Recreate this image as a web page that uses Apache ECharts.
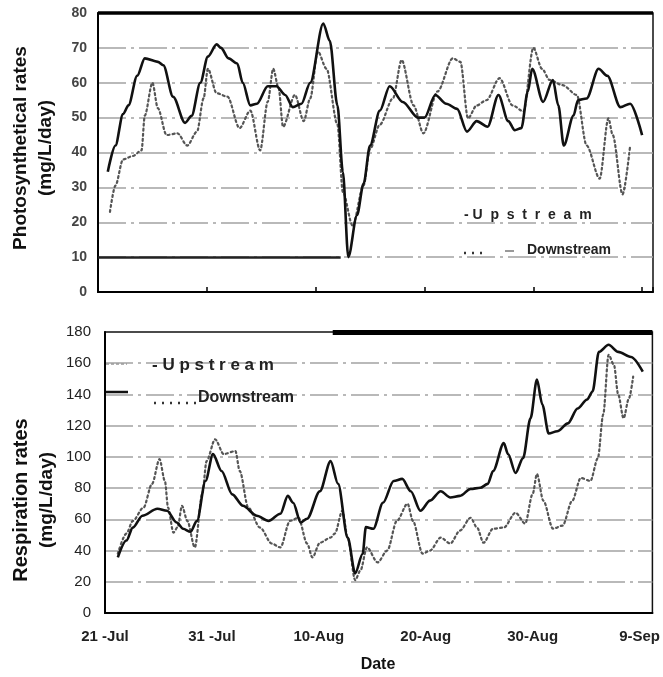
<!DOCTYPE html>
<html>
<head>
<meta charset="utf-8">
<script src="https://cdn.jsdelivr.net/npm/echarts@6/dist/echarts.min.js"></script>
<style>
html,body{margin:0;padding:0;background:#fff;}
#chart{width:663px;height:677px;}
</style>
</head>
<body>
<div id="chart"></div>
<script>
// Day offsets from 21-Jul (x positions of the points)
var xTickLabels = ['21 -Jul', '31 -Jul', '10-Aug', '20-Aug', '30-Aug', '9-Sep'];
var photoTicks = [0, 10, 20, 30, 40, 50, 60, 70, 80];
var respTicks = [0, 20, 40, 60, 80, 100, 120, 140, 160, 180];

// Photosynthetical rates - Upstream
var photoUpDays = [0.9,1.6,2.3,2.8,3.6,4.3,5.5,6,6.9,8,8.6,9.4,10.1,10.9,11.3,12,12.8,13.3,14,14.6,15.6,16.4,17.2,17.9,18.7,19.5,20.7,21.3,22,22.5,23,23.8,24.4,25,25.9,26.8,28,29.4,30,31,32,33,33.9,34.8,35.8,36.8,37.7,38.3,38.9,39.5,39.9,40.9,41.8,42.3,42.8,43.7,44.1,44.9,46,46.8,48,48.9,50];
var photoUpVals = [34.5,42,51,53.5,62,67,66,65,56,48.5,50.5,60,67.5,71,70,67,65.5,60,53.5,54,59,59,56.5,53,54,60,77,72,53.5,34.5,10,22,31,42,52,59,54.5,50,50,56.5,54,52.5,46,49,47.4,56.5,49,46.4,47,57.5,64,54.5,60.8,53.5,42,50.6,55,55.5,64,62,53,54,45];

// Photosynthetical rates - Downstream
var photoDownDays = [1.1,1.6,2.3,3.2,4,4.3,5,5.5,6.3,7.3,8.2,9.1,9.7,10.1,10.9,11.9,13,14,14.9,15.6,16.1,16.6,17,18.1,18.9,19.5,20.2,21,22,22.5,23.4,24.4,25,25.9,27.1,27.9,29,29.9,31.2,32.6,33.3,34,34.8,35.7,36.9,38.1,39.1,40,40.8,41.5,42.7,44,44.9,46.1,46.9,47.3,48.2,48.9];
var photoDownVals = [23,30.5,38,39,40.6,50.6,60,52.7,45,45.5,42,46,55.5,64,57,56,47,52,40.6,54.6,64,58.4,47.4,56.5,49,55.5,69,64,48,28.7,19,30.5,41,48,55.5,66.5,53.5,45.5,57.5,67,66,49.8,53.5,55,61.3,53.5,51.8,70,64,60.8,59.3,56.5,42,32.5,49.8,45,28,42];

// Respiration rates - Upstream
var respUpDays = [1.2,2,2.6,3.5,4.9,5.8,6.7,7.3,8,8.6,9.4,10.1,10.9,11.9,12.9,14.2,15.3,16.4,17.1,17.6,18.3,18.9,20.1,21.1,21.8,22.7,23.4,24.1,24.4,25.1,26,27,27.8,28.6,29.5,30.4,31.4,32.3,33.2,34.2,35.1,35.8,36.3,37.3,37.7,38.4,39.1,39.8,40.4,40.9,41.5,42.3,43.3,44.2,45.1,45.6,46.2,47.1,48,49.2,50.3];
var respUpVals = [35.6,46.4,54.7,62.3,66.8,65.5,58,54,52,59,84.6,101.8,91,76,68.7,62.3,59,63.6,75,70.6,58,60.4,78,97.3,82.7,48.3,25.4,38,55,54,70.6,84.6,85.9,78,65.5,72,78,74,75,79.5,80.2,82.7,91,108.8,101.8,89.7,99.2,124.7,149.5,133.6,115,116.4,121.5,131,136.8,141.9,167.3,171.8,167.3,164,154.6];

// Respiration rates - Downstream
var respDownDays = [1.2,2,2.6,3.6,4.4,5.1,5.6,5.9,6.4,6.8,7.2,7.7,8.4,9.1,9.5,10.3,11.1,12.2,12.6,13.4,14.5,15.6,16.4,17.3,18.1,18.9,19.4,20.1,21.1,21.5,22.2,22.7,23.4,23.9,24.5,25.5,26.4,27.3,28.3,28.8,29.7,30.4,31.4,32.3,33.2,34.2,34.8,35.4,36.3,37.3,38.4,39.3,40,40.4,41,41.9,42.8,43.7,44.5,45.4,46.1,46.6,47.1,47.6,48,48.5,49,49.4];
var respDownVals = [38,50.9,59,67.5,82.7,98.6,84.6,67.5,51.5,55,68.7,59,42,76.3,97.3,111.3,101.8,103.7,91,67.5,54.7,44.5,42,59,61,44.5,35.6,45,48.3,50.9,65.5,48.3,21,27.4,42,32.4,40,59,70,59,38,40,48.3,44.5,52.8,61,54.7,45,54,54.7,64.2,57.3,76.3,89,71.9,54,56,71.9,86.5,84.6,99.2,127.2,165.4,159,140,124.7,137.4,151.4];

function zip(a, b) { return a.map(function (v, i) { return [v, b[i]]; }); }

var FONT = '"Liberation Sans", Arial, sans-serif';
var gridLine = { color: '#a3a3a3', width: 1.5, type: [28, 5, 3, 5] };

var chart = echarts.init(document.getElementById('chart'), null, { renderer: 'canvas' });

var option = {
  backgroundColor: '#ffffff',
  animation: false,
  textStyle: { fontFamily: FONT },
  grid: [
    { left: 98, right: 10, top: 13, bottom: 385, show: true, borderColor: '#111', borderWidth: 1.5 },
    { left: 105, right: 10, top: 332, bottom: 64, show: true, borderColor: '#111', borderWidth: 1.5 }
  ],
  xAxis: [
    {
      gridIndex: 0, type: 'value', min: 0, max: 51, interval: 10,
      axisLine: { show: true, lineStyle: { color: '#000', width: 2 } },
      axisTick: { show: true, inside: true, length: 5, lineStyle: { color: '#000', width: 1.5 } },
      axisLabel: { show: false },
      splitLine: { show: false }
    },
    {
      gridIndex: 1, type: 'value', min: 0, max: 51.2, interval: 10,
      axisLine: { show: true, lineStyle: { color: '#000', width: 2 } },
      axisTick: { show: false },
      axisLabel: {
        show: true, margin: 16, fontSize: 15, fontWeight: 'bold', color: '#222', fontFamily: FONT,
        showMaxLabel: false,
        formatter: function (v) { return (Math.abs(v % 10) < 1e-6) ? xTickLabels[Math.round(v / 10)] : ''; }
      },
      splitLine: { show: false }
    }
  ],
  yAxis: [
    {
      gridIndex: 0, type: 'value', min: photoTicks[0], max: photoTicks[photoTicks.length - 1], interval: 10,
      axisLine: { show: true, lineStyle: { color: '#000', width: 2 } },
      axisTick: { show: false },
      axisLabel: { margin: 11, fontSize: 14, fontWeight: 'bold', color: '#444', fontFamily: FONT },
      splitLine: { show: true, showMinLine: false, showMaxLine: false, lineStyle: gridLine }
    },
    {
      gridIndex: 1, type: 'value', min: respTicks[0], max: respTicks[respTicks.length - 1], interval: 20,
      axisLine: { show: true, lineStyle: { color: '#000', width: 2 } },
      axisTick: { show: false },
      axisLabel: { margin: 14, fontSize: 15, color: '#222', fontFamily: FONT },
      splitLine: { show: true, showMinLine: false, showMaxLine: false, lineStyle: gridLine }
    }
  ],
  series: [
    {
      name: 'Upstream', type: 'line', xAxisIndex: 0, yAxisIndex: 0,
      data: zip(photoUpDays, photoUpVals), smooth: 0.3, smoothMonotone: 'x', showSymbol: false, symbol: 'none',
      lineStyle: { color: '#111', width: 2.6 }, z: 5,
      markLine: {
        silent: true, symbol: 'none', label: { show: false },
        data: [
          [{ coord: [0, 80], lineStyle: { color: '#000', width: 3.5, type: 'solid' } }, { coord: [51, 80] }],
          [{ coord: [0, 10], lineStyle: { color: '#222', width: 2.5, type: 'solid' } }, { coord: [22.3, 10] }]
        ]
      }
    },
    {
      name: 'Downstream', type: 'line', xAxisIndex: 0, yAxisIndex: 0,
      data: zip(photoDownDays, photoDownVals), smooth: 0.3, smoothMonotone: 'x', showSymbol: false, symbol: 'none',
      lineStyle: { color: '#555', width: 2.2, type: [2, 3], cap: 'round' }, z: 4
    },
    {
      name: 'Upstream', type: 'line', xAxisIndex: 1, yAxisIndex: 1,
      data: zip(respUpDays, respUpVals), smooth: 0.3, smoothMonotone: 'x', showSymbol: false, symbol: 'none',
      lineStyle: { color: '#111', width: 2.6 }, z: 5,
      markLine: {
        silent: true, symbol: 'none', label: { show: false },
        data: [
          [{ coord: [21.3, 180], lineStyle: { color: '#000', width: 5, type: 'solid' } }, { coord: [51.2, 180] }]
        ]
      }
    },
    {
      name: 'Downstream', type: 'line', xAxisIndex: 1, yAxisIndex: 1,
      data: zip(respDownDays, respDownVals), smooth: 0.3, smoothMonotone: 'x', showSymbol: false, symbol: 'none',
      lineStyle: { color: '#555', width: 2.2, type: [2, 3], cap: 'round' }, z: 4
    }
  ],
  graphic: [
    // y-axis titles
    { type: 'text', x: 21, y: 148, rotation: Math.PI / 2, z: 10,
      style: { text: 'Photosynthetical rates', font: 'bold 19px ' + FONT, fill: '#111', textAlign: 'center', textVerticalAlign: 'middle' } },
    { type: 'text', x: 46, y: 148, rotation: Math.PI / 2, z: 10,
      style: { text: '(mg/L/day)', font: 'bold 19px ' + FONT, fill: '#111', textAlign: 'center', textVerticalAlign: 'middle' } },
    { type: 'text', x: 21, y: 500, rotation: Math.PI / 2, z: 10,
      style: { text: 'Respiration rates', font: 'bold 20px ' + FONT, fill: '#111', textAlign: 'center', textVerticalAlign: 'middle' } },
    { type: 'text', x: 47, y: 500, rotation: Math.PI / 2, z: 10,
      style: { text: '(mg/L/day)', font: 'bold 19px ' + FONT, fill: '#111', textAlign: 'center', textVerticalAlign: 'middle' } },
    // x-axis title
    { type: 'text', x: 378, y: 665, z: 10,
      style: { text: 'Date', font: 'bold 16px ' + FONT, fill: '#111', textAlign: 'center', textVerticalAlign: 'middle' } },
    // top legend
    { type: 'text', x: 464, y: 215, z: 10,
      style: { text: '- U  p  s  t  r  e  a  m', font: 'bold 14px ' + FONT, fill: '#222', textAlign: 'left', textVerticalAlign: 'middle' } },
    { type: 'line', z: 10, shape: { x1: 464, y1: 253, x2: 483, y2: 253 },
      style: { stroke: '#333', lineWidth: 2.5, lineDash: [2, 6] } },
    { type: 'line', z: 10, shape: { x1: 505, y1: 251, x2: 514, y2: 251 },
      style: { stroke: '#999', lineWidth: 2 } },
    { type: 'text', x: 527, y: 250, z: 10,
      style: { text: 'Downstream', font: 'bold 14px ' + FONT, fill: '#222', textAlign: 'left', textVerticalAlign: 'middle' } },
    // bottom legend
    { type: 'line', z: 10, shape: { x1: 106, y1: 364, x2: 127, y2: 364 },
      style: { stroke: '#999', lineWidth: 1.5, lineDash: [3, 2] } },
    { type: 'text', x: 152, y: 365, z: 10,
      style: { text: '- U p s t r e a m', font: 'bold 17px ' + FONT, fill: '#222', textAlign: 'left', textVerticalAlign: 'middle' } },
    { type: 'line', z: 10, shape: { x1: 106, y1: 392, x2: 128, y2: 392 },
      style: { stroke: '#111', lineWidth: 2.5 } },
    { type: 'line', z: 10, shape: { x1: 154, y1: 403, x2: 197, y2: 403 },
      style: { stroke: '#333', lineWidth: 2.5, lineDash: [2, 6] } },
    { type: 'text', x: 198, y: 398, z: 10,
      style: { text: 'Downstream', font: 'bold 16px ' + FONT, fill: '#222', textAlign: 'left', textVerticalAlign: 'middle' } }
  ]
};

chart.setOption(option);
</script>
</body>
</html>
